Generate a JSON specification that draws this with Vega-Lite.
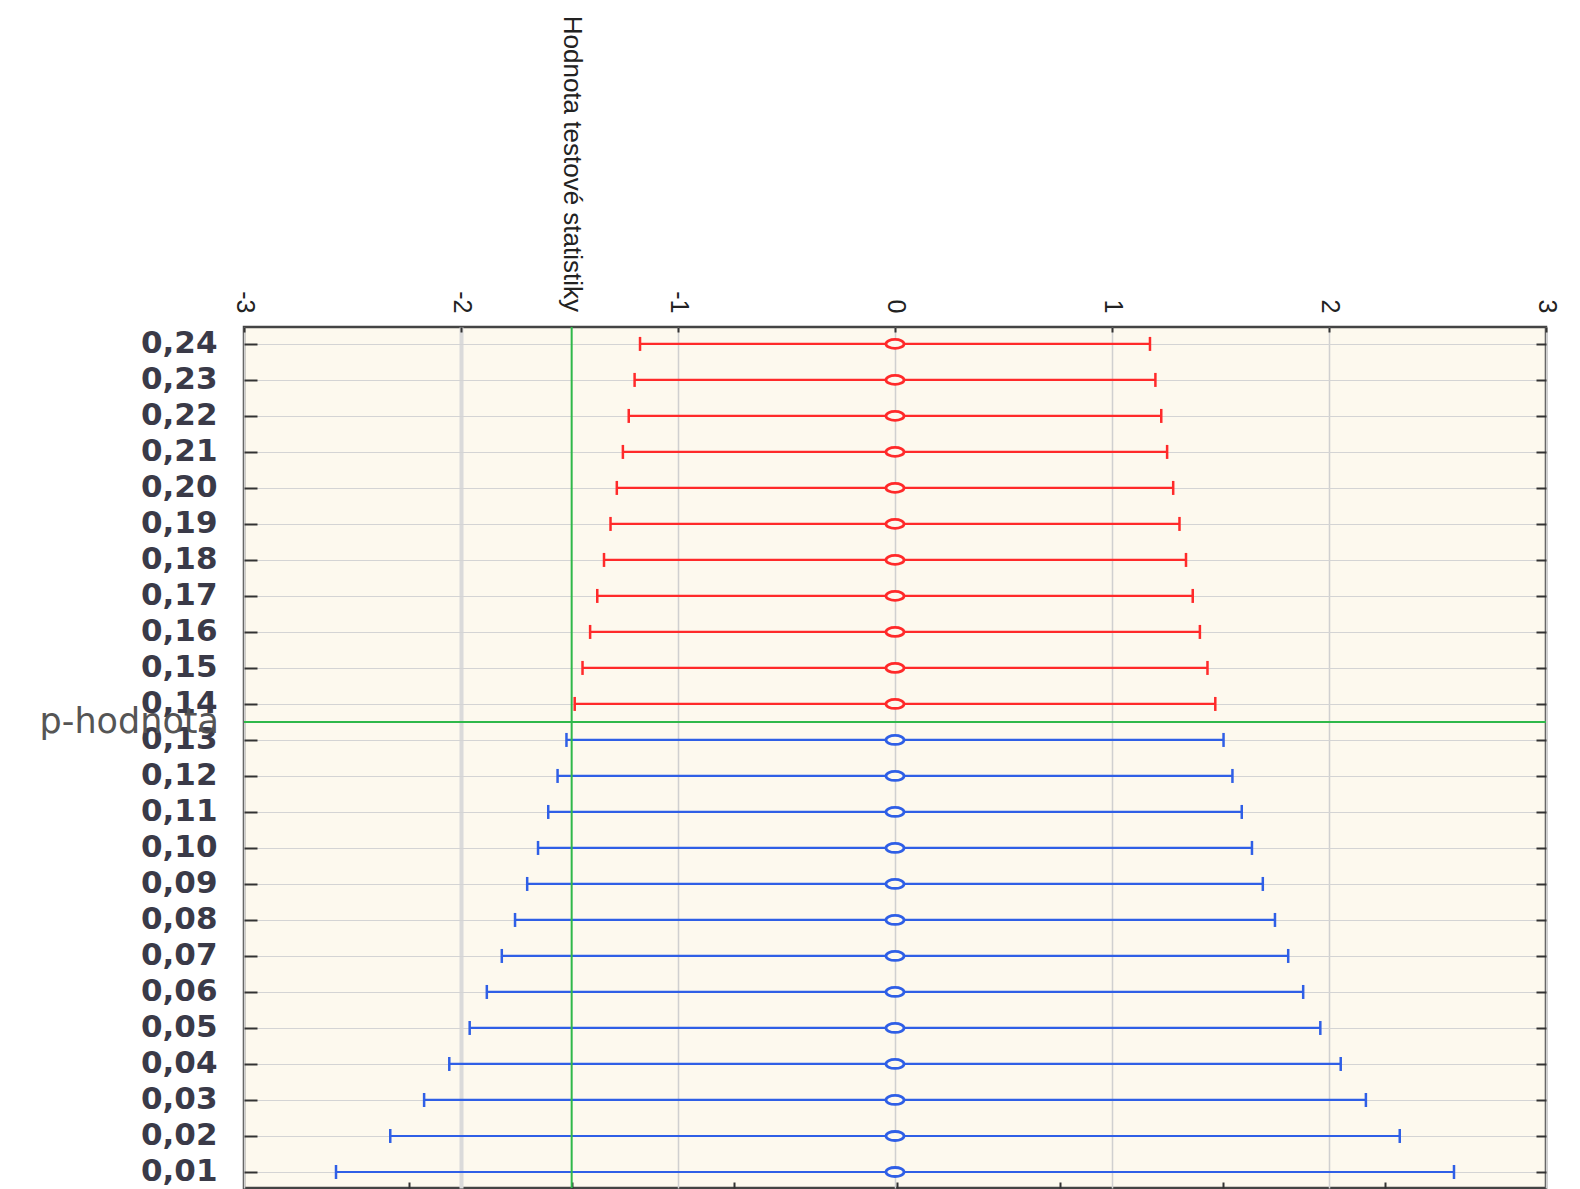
{
  "$schema": "https://vega.github.io/schema/vega-lite/v6.json",
  "autosize": {"type": "none"},
  "padding": {"left": 244, "top": 327, "right": 34, "bottom": 2},
  "width": 1302,
  "height": 861,
  "background": "#ffffff",
  "config": {
    "view": {"fill": "#fdf9ee", "stroke": "#444444", "strokeWidth": 2.5},
    "axis": {"domain": false}
  },
  "datasets": {
    "bars": [
      {"p": 0.24, "lo": -1.175, "hi": 1.175, "mid": 0, "grp": "nad"},
      {"p": 0.23, "lo": -1.2, "hi": 1.2, "mid": 0, "grp": "nad"},
      {"p": 0.22, "lo": -1.227, "hi": 1.227, "mid": 0, "grp": "nad"},
      {"p": 0.21, "lo": -1.254, "hi": 1.254, "mid": 0, "grp": "nad"},
      {"p": 0.20, "lo": -1.282, "hi": 1.282, "mid": 0, "grp": "nad"},
      {"p": 0.19, "lo": -1.311, "hi": 1.311, "mid": 0, "grp": "nad"},
      {"p": 0.18, "lo": -1.341, "hi": 1.341, "mid": 0, "grp": "nad"},
      {"p": 0.17, "lo": -1.372, "hi": 1.372, "mid": 0, "grp": "nad"},
      {"p": 0.16, "lo": -1.405, "hi": 1.405, "mid": 0, "grp": "nad"},
      {"p": 0.15, "lo": -1.44, "hi": 1.44, "mid": 0, "grp": "nad"},
      {"p": 0.14, "lo": -1.476, "hi": 1.476, "mid": 0, "grp": "nad"},
      {"p": 0.13, "lo": -1.514, "hi": 1.514, "mid": 0, "grp": "pod"},
      {"p": 0.12, "lo": -1.555, "hi": 1.555, "mid": 0, "grp": "pod"},
      {"p": 0.11, "lo": -1.598, "hi": 1.598, "mid": 0, "grp": "pod"},
      {"p": 0.10, "lo": -1.645, "hi": 1.645, "mid": 0, "grp": "pod"},
      {"p": 0.09, "lo": -1.695, "hi": 1.695, "mid": 0, "grp": "pod"},
      {"p": 0.08, "lo": -1.751, "hi": 1.751, "mid": 0, "grp": "pod"},
      {"p": 0.07, "lo": -1.812, "hi": 1.812, "mid": 0, "grp": "pod"},
      {"p": 0.06, "lo": -1.881, "hi": 1.881, "mid": 0, "grp": "pod"},
      {"p": 0.05, "lo": -1.96, "hi": 1.96, "mid": 0, "grp": "pod"},
      {"p": 0.04, "lo": -2.054, "hi": 2.054, "mid": 0, "grp": "pod"},
      {"p": 0.03, "lo": -2.17, "hi": 2.17, "mid": 0, "grp": "pod"},
      {"p": 0.02, "lo": -2.326, "hi": 2.326, "mid": 0, "grp": "pod"},
      {"p": 0.01, "lo": -2.576, "hi": 2.576, "mid": 0, "grp": "pod"}
    ],
    "ann": [
      {"stat": -1.49, "pval": 0.135, "left": -3, "top": 0.2447, "statLabel": "Hodnota testové statistiky", "pLabel": "p-hodnota"}
    ]
  },
  "resolve": {"axis": {"x": "independent", "y": "independent"}},
  "layer": [
    {
      "data": {"name": "bars"},
      "mark": {"type": "rule", "strokeWidth": 2.2},
      "encoding": {
        "x": {
          "field": "lo", "type": "quantitative",
          "scale": {"domain": [-3, 3], "nice": false, "zero": false},
          "axis": {
            "orient": "top", "title": null,
            "values": [-3, -2, -1, 0, 1, 2, 3],
            "labelExpr": "datum.value < 0 ? '-' + abs(datum.value) : '' + datum.value",
            "labelAngle": 90, "labelAlign": "right", "labelBaseline": "middle",
            "labelPadding": 19, "labelFont": "Liberation Sans", "labelFontSize": 25, "labelColor": "#222222",
            "tickSize": -5, "tickColor": "#333333", "tickWidth": 2,
            "grid": true,
            "gridColor": {"condition": {"test": "datum.value === -2", "value": "#dadada"}, "value": "#d0d0d0"},
            "gridWidth": {"condition": {"test": "datum.value === -2", "value": 4}, "value": 1.5}
          }
        },
        "x2": {"field": "hi"},
        "y": {
          "field": "p", "type": "quantitative",
          "scale": {"domain": [0.00555, 0.2447], "nice": false, "zero": false},
          "axis": {
            "orient": "left", "title": null,
            "values": [0.01, 0.02, 0.03, 0.04, 0.05, 0.06, 0.07, 0.08, 0.09, 0.1, 0.11, 0.12, 0.13, 0.14, 0.15, 0.16, 0.17, 0.18, 0.19, 0.2, 0.21, 0.22, 0.23, 0.24],
            "labelExpr": "replace(format(datum.value, '.2f'), '.', ',')",
            "labelFont": "DejaVu Sans", "labelFontSize": 31, "labelFontWeight": "bold", "labelColor": "#3a3a48",
            "labelPadding": 40,
            "tickSize": -13, "tickColor": "#333333", "tickWidth": 2,
            "grid": true, "gridColor": "#d4d4d4", "gridWidth": 1.2
          }
        },
        "color": {
          "field": "grp", "type": "nominal",
          "scale": {"domain": ["nad", "pod"], "range": ["#ff2a2a", "#2f5fe6"]},
          "legend": null
        }
      }
    },
    {
      "data": {"name": "bars"},
      "mark": {"type": "point", "shape": "M0,-1L0,1", "size": 196, "strokeWidth": 2.5, "filled": false, "opacity": 1},
      "encoding": {
        "x": {"field": "lo", "type": "quantitative", "axis": null},
        "y": {"field": "p", "type": "quantitative", "axis": null},
        "color": {"field": "grp", "type": "nominal", "legend": null}
      }
    },
    {
      "data": {"name": "bars"},
      "mark": {"type": "point", "shape": "M0,-1L0,1", "size": 196, "strokeWidth": 2.5, "filled": false, "opacity": 1},
      "encoding": {
        "x": {"field": "hi", "type": "quantitative", "axis": null},
        "y": {"field": "p", "type": "quantitative", "axis": null},
        "color": {"field": "grp", "type": "nominal", "legend": null}
      }
    },
    {
      "data": {"name": "bars"},
      "mark": {"type": "point", "shape": "M-1,0A1,0.5 0 1,1 1,0A1,0.5 0 1,1 -1,0Z", "size": 324, "strokeWidth": 2.8, "filled": false, "fill": "#fdf9ee", "opacity": 1},
      "encoding": {
        "x": {"field": "mid", "type": "quantitative", "axis": null},
        "y": {"field": "p", "type": "quantitative", "axis": null},
        "color": {"field": "grp", "type": "nominal", "legend": null}
      }
    },
    {
      "data": {"name": "ann"},
      "mark": {"type": "rule", "color": "#2fb84a", "strokeWidth": 2},
      "encoding": {
        "x": {
          "field": "stat", "type": "quantitative",
          "axis": {
            "orient": "bottom", "title": null, "labels": false, "grid": false,
            "values": [-2.24, -1.49, -0.74, 0.01, 0.76, 1.51, 2.26],
            "tickSize": -6, "tickColor": "#333333", "tickWidth": 2
          }
        }
      }
    },
    {
      "data": {"name": "ann"},
      "mark": {"type": "rule", "color": "#2fb84a", "strokeWidth": 2},
      "encoding": {
        "y": {
          "field": "pval", "type": "quantitative",
          "axis": {
            "orient": "right", "title": null, "labels": false, "grid": false,
            "values": [0.01, 0.02, 0.03, 0.04, 0.05, 0.06, 0.07, 0.08, 0.09, 0.1, 0.11, 0.12, 0.13, 0.14, 0.15, 0.16, 0.17, 0.18, 0.19, 0.2, 0.21, 0.22, 0.23, 0.24],
            "tickSize": -10, "tickColor": "#333333", "tickWidth": 2
          }
        }
      }
    },
    {
      "data": {"name": "ann"},
      "mark": {"type": "text", "angle": 90, "align": "right", "baseline": "middle", "font": "Liberation Sans", "fontSize": 26, "color": "#222222"},
      "encoding": {
        "x": {"field": "stat", "type": "quantitative", "axis": null},
        "y": {"field": "top", "type": "quantitative", "axis": null},
        "yOffset": {"value": -15},
        "text": {"field": "statLabel"}
      }
    },
    {
      "data": {"name": "ann"},
      "mark": {"type": "text", "align": "right", "baseline": "middle", "dx": -25, "font": "DejaVu Sans", "fontSize": 35, "color": "#555555"},
      "encoding": {
        "x": {"field": "left", "type": "quantitative", "axis": null},
        "y": {"field": "pval", "type": "quantitative", "axis": null},
        "text": {"field": "pLabel"}
      }
    }
  ]
}
